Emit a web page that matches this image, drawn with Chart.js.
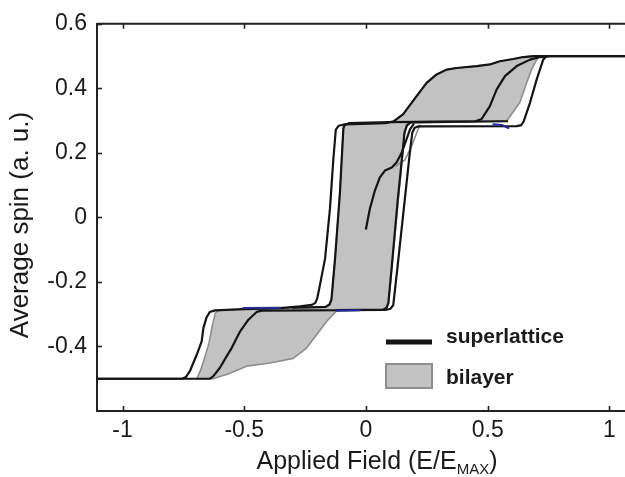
<!DOCTYPE html>
<html>
<head>
<meta charset="utf-8">
<script src="https://cdn.jsdelivr.net/npm/chart.js@4.4.1/dist/chart.umd.min.js"></script>
<style>
html,body{margin:0;padding:0;background:#fff;}
#wrap{width:625px;height:477px;position:relative;}
</style>
</head>
<body>
<div id="wrap"><canvas id="c" width="625" height="477"></canvas></div>
<script>
// ---- tick values / labels ----
const xTicks = [-1, -0.5, 0, 0.5, 1];
const xTickLabels = ['-1', '-0.5', '0', '0.5', '1'];
const yTicks = [-0.4, -0.2, 0, 0.2, 0.4, 0.6];
const yTickLabels = ['-0.4', '-0.2', '0', '0.2', '0.4', '0.6'];
const seriesNames = ['superlattice', 'bilayer'];
const xTitleMain = 'Applied Field (E/E';
const xTitleSub = 'MAX';
const xTitleEnd = ')';
const yTitle = 'Average spin (a. u.)';

// ---- superlattice curves [field, spin] ----
const superOuterDown = [[1.07,0.5],[0.69,0.5],[0.646,0.497],[0.605,0.491],[0.55,0.484],[0.509,0.474],[0.455,0.469],[0.372,0.463],[0.331,0.458],[0.29,0.443],[0.249,0.417],[0.208,0.376],[0.153,0.32],[0.115,0.298],[0.08,0.292],[-0.09,0.288],[-0.112,0.284],[-0.124,0.272],[-0.134,0.181],[-0.148,0.027],[-0.168,-0.127],[-0.189,-0.209],[-0.2,-0.25],[-0.208,-0.265],[-0.222,-0.271],[-0.271,-0.276],[-0.353,-0.281],[-0.504,-0.284],[-0.62,-0.288],[-0.642,-0.293],[-0.655,-0.31],[-0.668,-0.343],[-0.675,-0.384],[-0.695,-0.425],[-0.723,-0.476],[-0.74,-0.495],[-0.755,-0.5],[-1.11,-0.5]];
const superOuterUp = [[-1.11,-0.5],[-0.641,-0.5],[-0.627,-0.492],[-0.6,-0.466],[-0.572,-0.43],[-0.552,-0.405],[-0.517,-0.353],[-0.483,-0.317],[-0.449,-0.293],[-0.428,-0.289],[0.08,-0.287],[0.1,-0.283],[0.112,-0.272],[0.13,-0.15],[0.16,0.06],[0.18,0.2],[0.19,0.262],[0.2,0.278],[0.215,0.282],[0.62,0.283],[0.638,0.286],[0.648,0.298],[0.674,0.356],[0.701,0.427],[0.728,0.489],[0.742,0.5],[1.07,0.5]];
const superInnerDown = [[0.75,0.5],[0.715,0.497],[0.674,0.489],[0.619,0.469],[0.571,0.438],[0.537,0.397],[0.509,0.345],[0.475,0.305],[0.45,0.298],[0.1,0.295],[-0.07,0.292],[-0.088,0.286],[-0.093,0.275],[-0.107,0.078],[-0.127,-0.127],[-0.142,-0.255],[-0.15,-0.27],[-0.165,-0.277],[-0.3,-0.28]];
const superInnerUp = [[-0.12,-0.287],[0.07,-0.286],[0.085,-0.28],[0.092,-0.265],[0.105,-0.16],[0.13,0.05],[0.15,0.2],[0.158,0.262],[0.168,0.285],[0.185,0.295],[0.58,0.298]];
const superInitial = [[0.0,-0.035],[0.016,0.027],[0.037,0.084],[0.057,0.124],[0.078,0.145],[0.106,0.155],[0.126,0.171],[0.147,0.201],[0.167,0.243],[0.181,0.273],[0.195,0.288]];

// ---- bilayer loop (closed outline) [field, spin] ----
const bilayerLoop = [[0.715,0.5],[0.687,0.5],[0.646,0.497],[0.605,0.491],[0.55,0.484],[0.509,0.474],[0.455,0.469],[0.372,0.463],[0.331,0.458],[0.29,0.443],[0.249,0.417],[0.208,0.376],[0.153,0.32],[0.115,0.298],[0.08,0.293],[-0.08,0.289],[-0.093,0.28],[-0.107,0.078],[-0.127,-0.127],[-0.142,-0.255],[-0.15,-0.27],[-0.17,-0.278],[-0.6,-0.287],[-0.618,-0.295],[-0.63,-0.33],[-0.645,-0.39],[-0.665,-0.44],[-0.68,-0.475],[-0.695,-0.5],[-0.627,-0.5],[-0.6,-0.493],[-0.572,-0.487],[-0.49,-0.461],[-0.394,-0.451],[-0.299,-0.437],[-0.244,-0.405],[-0.202,-0.363],[-0.161,-0.322],[-0.12,-0.289],[0.075,-0.286],[0.092,-0.268],[0.16,0.273],[0.175,0.292],[0.578,0.299],[0.632,0.356],[0.66,0.417],[0.68,0.458],[0.701,0.489],[0.715,0.5]];
const bilayerInitial = [[0.12,0.158],[0.16,0.178],[0.19,0.225],[0.212,0.27],[0.222,0.286]];

// ---- small blue fragments visible on plateaus ----
const blueMarkA = [[-0.504,-0.281],[-0.353,-0.28]];
const blueMarkB = [[-0.12,-0.289],[-0.025,-0.288]];
const blueMarkC = [[0.523,0.289],[0.56,0.286],[0.585,0.277]];

const pts = a => a.map(p => ({x: p[0], y: p[1]}));
const FONT = "'Liberation Sans', Arial, Helvetica, sans-serif";
const INK = '#1a1a1a';
const BLACK = '#141414';
const GREYFILL = '#c2c2c2';
const GREYLINE = '#8e8e8e';

function blackLine(data, label) {
  return {label: label, data: pts(data), borderColor: BLACK, borderWidth: 2.2, fill: false, order: 1, pointRadius: 0};
}

const datasets = [
  {label: seriesNames[1], data: pts(bilayerLoop), borderColor: GREYLINE, backgroundColor: GREYFILL, borderWidth: 1.6, fill: 'shape', order: 10, pointRadius: 0},
  {label: seriesNames[1] + ' initial', data: pts(bilayerInitial), borderColor: GREYLINE, borderWidth: 1.6, fill: false, order: 9, pointRadius: 0},
  blackLine(superOuterDown, seriesNames[0]),
  blackLine(superOuterUp, seriesNames[0] + ' up'),
  blackLine(superInnerDown, seriesNames[0] + ' inner down'),
  blackLine(superInnerUp, seriesNames[0] + ' inner up'),
  blackLine(superInitial, seriesNames[0] + ' initial'),
  {label: 'a', data: pts(blueMarkA), borderColor: '#2a2aa0', borderWidth: 2, fill: false, order: 0, pointRadius: 0},
  {label: 'b', data: pts(blueMarkB), borderColor: '#2a2aa0', borderWidth: 2, fill: false, order: 0, pointRadius: 0},
  {label: 'c', data: pts(blueMarkC), borderColor: '#2a2aa0', borderWidth: 2, fill: false, order: 0, pointRadius: 0}
];

const decor = {
  id: 'decor',
  afterDatasetsDraw(chart) {
    const ctx = chart.ctx;
    const a = chart.chartArea;
    const xs = chart.scales.x, ys = chart.scales.y;
    ctx.save();
    ctx.strokeStyle = '#222';
    ctx.lineWidth = 2;
    // top frame line
    ctx.beginPath();
    ctx.moveTo(a.left, a.top);
    ctx.lineTo(a.right, a.top);
    ctx.stroke();
    // inward tick marks
    ctx.lineWidth = 1.6;
    xTicks.forEach(v => {
      const px = Math.round(xs.getPixelForValue(v)) + 0.5;
      ctx.beginPath();
      ctx.moveTo(px, a.bottom); ctx.lineTo(px, a.bottom - 5);
      ctx.moveTo(px, a.top); ctx.lineTo(px, a.top + 5);
      ctx.stroke();
    });
    yTicks.forEach(v => {
      const py = Math.round(ys.getPixelForValue(v)) + 0.5;
      ctx.beginPath();
      ctx.moveTo(a.left, py); ctx.lineTo(a.left + 5, py);
      ctx.stroke();
    });
    // legend
    ctx.strokeStyle = BLACK;
    ctx.lineWidth = 5;
    ctx.beginPath();
    ctx.moveTo(386, 342); ctx.lineTo(432, 342);
    ctx.stroke();
    ctx.fillStyle = GREYFILL;
    ctx.fillRect(386, 364, 46, 24);
    ctx.strokeStyle = GREYLINE;
    ctx.lineWidth = 2;
    ctx.strokeRect(386, 364, 46, 24);
    ctx.fillStyle = INK;
    ctx.font = 'bold 21px ' + FONT;
    ctx.textAlign = 'left';
    ctx.textBaseline = 'alphabetic';
    ctx.fillText(seriesNames[0], 446, 343);
    ctx.fillText(seriesNames[1], 446, 384);
    // x title with subscript
    const mainFont = '25px ' + FONT, subFont = '15px ' + FONT;
    ctx.font = mainFont;
    const w1 = ctx.measureText(xTitleMain).width;
    const w3 = ctx.measureText(xTitleEnd).width;
    ctx.font = subFont;
    const w2 = ctx.measureText(xTitleSub).width;
    const total = w1 + w2 + w3;
    let sx = 377 - total / 2;
    const by = 469;
    ctx.font = mainFont;
    ctx.fillText(xTitleMain, sx, by);
    ctx.font = subFont;
    ctx.fillText(xTitleSub, sx + w1, by + 5);
    ctx.font = mainFont;
    ctx.fillText(xTitleEnd, sx + w1 + w2, by);
    // y title
    ctx.translate(28, 225);
    ctx.rotate(-Math.PI / 2);
    ctx.textAlign = 'center';
    ctx.font = '26px ' + FONT;
    ctx.fillText(yTitle, 0, 0);
    ctx.restore();
  }
};

new Chart(document.getElementById('c'), {
  type: 'line',
  data: {datasets: datasets},
  options: {
    responsive: false,
    animation: false,
    devicePixelRatio: 1,
    layout: {padding: {top: 21, right: 0, bottom: 0, left: 0}},
    plugins: {legend: {display: false}, tooltip: {enabled: false}},
    elements: {point: {radius: 0}, line: {tension: 0, borderJoinStyle: 'round', borderCapStyle: 'round'}},
    scales: {
      x: {
        type: 'linear', min: -1.105, max: 1.064,
        afterFit: s => { s.height = 66; },
        afterBuildTicks: s => { s.ticks = xTicks.map(v => ({value: v})); },
        ticks: {callback: (v, i) => xTickLabels[i], font: {family: FONT, size: 23}, color: INK, padding: 6, maxRotation: 0, autoSkip: false},
        grid: {display: false, drawTicks: false},
        border: {display: true, color: '#222', width: 2}
      },
      y: {
        type: 'linear', min: -0.6, max: 0.6,
        afterFit: s => { s.width = 97; },
        afterBuildTicks: s => { s.ticks = yTicks.map(v => ({value: v})); },
        ticks: {callback: (v, i) => yTickLabels[i], font: {family: FONT, size: 23}, color: INK, padding: 10, autoSkip: false},
        grid: {display: false, drawTicks: false},
        border: {display: true, color: '#222', width: 2}
      }
    }
  },
  plugins: [decor]
});
</script>
</body>
</html>
